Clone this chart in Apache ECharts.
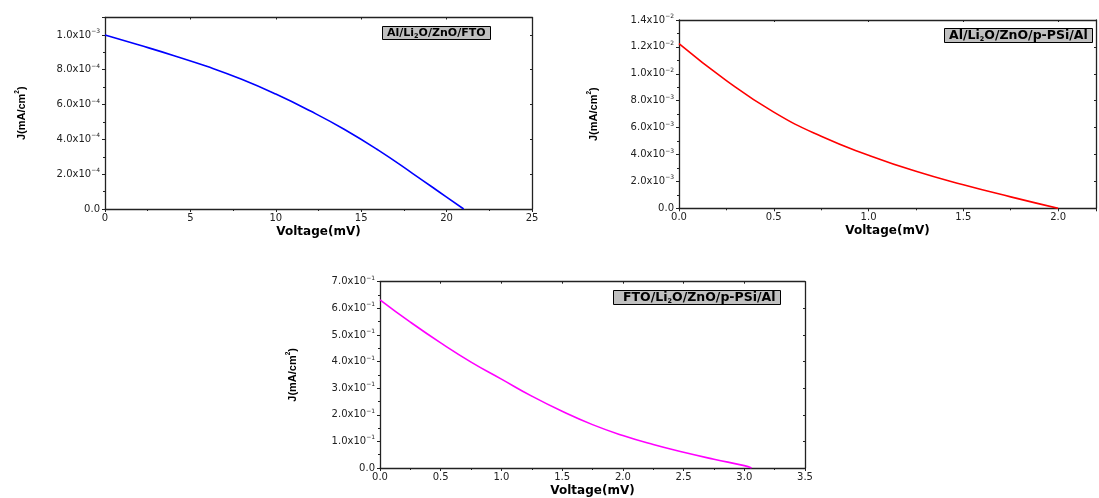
<!DOCTYPE html>
<html>
<head>
<meta charset="utf-8">
<script src="https://cdn.jsdelivr.net/npm/echarts@6/dist/echarts.min.js"></script>
<style>
html,body{margin:0;padding:0;background:#fff;}
#chart{width:1099px;height:498px;}
</style>
</head>
<body>
<div id="chart"></div>
<script>
// ---- Data ----
var v1 = [0, 2, 4, 6, 8, 10, 12, 14, 16, 18, 20, 21];
var j1 = [1.000e-3, 0.942e-3, 0.882e-3, 0.818e-3, 0.745e-3, 0.660e-3, 0.564e-3, 0.458e-3, 0.338e-3, 0.205e-3, 0.068e-3, 0];

var v2 = [0, 0.25, 0.5, 0.75, 1.0, 1.25, 1.5, 1.75, 2.0];
var j2 = [12.25e-3, 9.5e-3, 7.15e-3, 5.35e-3, 3.95e-3, 2.75e-3, 1.75e-3, 0.85e-3, 0];

var v3 = [0, 0.25, 0.5, 0.75, 1.0, 1.25, 1.5, 1.75, 2.0, 2.25, 2.5, 2.75, 3.0, 3.06];
var j3 = [0.632, 0.548, 0.470, 0.398, 0.334, 0.270, 0.213, 0.163, 0.122, 0.088, 0.059, 0.033, 0.009, 0];

// tick labels: [mantissa, exponent]
var yTicks1 = [['0.0', ''], ['2.0x10', '-4'], ['4.0x10', '-4'], ['6.0x10', '-4'], ['8.0x10', '-4'], ['1.0x10', '-3']];
var yTicks2 = [['0.0', ''], ['2.0x10', '-3'], ['4.0x10', '-3'], ['6.0x10', '-3'], ['8.0x10', '-3'], ['1.0x10', '-2'], ['1.2x10', '-2'], ['1.4x10', '-2']];
var yTicks3 = [['0.0', ''], ['1.0x10', '-1'], ['2.0x10', '-1'], ['3.0x10', '-1'], ['4.0x10', '-1'], ['5.0x10', '-1'], ['6.0x10', '-1'], ['7.0x10', '-1']];
var xTicks1 = ['0', '5', '10', '15', '20', '25'];
var xTicks2 = ['0.0', '0.5', '1.0', '1.5', '2.0'];
var xTicks3 = ['0.0', '0.5', '1.0', '1.5', '2.0', '2.5', '3.0', '3.5'];

var legends = [
  ['Al/Li', '2', 'O/ZnO/FTO'],
  ['Al/Li', '2', 'O/ZnO/p-PSi/Al'],
  ['FTO/Li', '2', 'O/ZnO/p-PSi/Al']
];
var colors = ['#0000ff', '#ff0000', '#ff00ff'];

// ---- Styles ----
var FONT = '"DejaVu Sans", "Liberation Sans", Arial, sans-serif';
var NARROW = '"Liberation Sans Narrow", "Arial Narrow", "Liberation Sans", sans-serif';
var AX = '#222';

function pairs(x, y) { return x.map(function (v, i) { return [v, y[i]]; }); }

function yFmt(ticks) {
  return function (val, idx) {
    var t = ticks[idx];
    if (!t) return '';
    if (!t[1]) return '{m|' + t[0] + '}';
    return '{m|' + t[0] + '}{s|' + t[1].replace('-', '\u2212') + '}';
  };
}
function xFmt(ticks) {
  return function (val, idx) { return ticks[idx] !== undefined ? ticks[idx] : ''; };
}

var grids = [
  {left: 105, top: 17.5, width: 427, height: 191.5},
  {left: 679, top: 20, width: 421.5, height: 188.3},
  {left: 380, top: 281.7, width: 425, height: 187.3}
];
var xCfg = [
  {max: 25, interval: 5, ticks: xTicks1},
  {max: 2.2, interval: 0.5, ticks: xTicks2},
  {max: 3.5, interval: 0.5, ticks: xTicks3}
];
var yCfg = [
  {max: 1.1e-3, interval: 2e-4, ticks: yTicks1, gap: 76},
  {max: 1.4e-2, interval: 2e-3, ticks: yTicks2, gap: 78},
  {max: 0.7, interval: 0.1, ticks: yTicks3, gap: 80}
];
var titlePos = [
  {left: 382, top: 25, pad: [1, 5, 0, 5], fs: 11},
  {left: 944, top: 28, pad: [1, 5, 0, 5], fs: 12.5},
  {left: 613, top: 290, pad: [1, 5, 0, 10], fs: 12.5}
];

var xAxes = [], yAxes = [], series = [], titles = [];
var datas = [pairs(v1, j1), pairs(v2, j2), pairs(v3, j3)];

for (var i = 0; i < 3; i++) {
  var axLine = {show: true, onZero: false, lineStyle: {color: AX, width: 1.3}};
  xAxes.push({
    type: 'value', gridIndex: i, position: 'bottom', min: 0, max: xCfg[i].max, interval: xCfg[i].interval,
    splitLine: {show: false}, axisLine: axLine,
    axisTick: {show: true, length: 3, lineStyle: {color: AX, width: 1}},
    minorTick: {show: true, splitNumber: 2, length: 2, lineStyle: {color: AX, width: 1}},
    axisLabel: {formatter: xFmt(xCfg[i].ticks), fontFamily: FONT, fontSize: 10, color: '#222', margin: 4, showMaxLabel: true},
    name: 'Voltage(mV)', nameLocation: 'middle', nameGap: 17,
    nameTextStyle: {fontFamily: FONT, fontWeight: 'bold', fontSize: 12, color: '#000'}
  });
  xAxes.push({
    type: 'value', gridIndex: i, position: 'top', min: 0, max: xCfg[i].max, interval: xCfg[i].interval,
    splitLine: {show: false}, axisLine: axLine,
    axisTick: {show: true, inside: true, length: 2, lineStyle: {color: AX, width: 1}},
    axisLabel: {show: false}
  });
  yAxes.push({
    type: 'value', gridIndex: i, position: 'left', min: 0, max: yCfg[i].max, interval: yCfg[i].interval,
    splitLine: {show: false}, axisLine: axLine,
    axisTick: {show: true, length: 3, lineStyle: {color: AX, width: 1}},
    minorTick: {show: true, splitNumber: 2, length: 2, lineStyle: {color: AX, width: 1}},
    axisLabel: {
      formatter: yFmt(yCfg[i].ticks), margin: 5, showMaxLabel: true,
      rich: {
        m: {fontFamily: FONT, fontSize: 10, color: '#222'},
        s: {fontFamily: FONT, fontSize: 6, color: '#222', padding: [0, 0, 7, 0]}
      }
    },
    name: 'J(mA/cm{p|2})', nameLocation: 'middle', nameGap: yCfg[i].gap, nameRotate: 90,
    nameTextStyle: {
      fontFamily: NARROW, fontWeight: 'bold', fontSize: 11, color: '#000',
      rich: {p: {fontFamily: NARROW, fontWeight: 'bold', fontSize: 6.5, color: '#000', padding: [0, 0, 8, 0]}}
    }
  });
  yAxes.push({
    type: 'value', gridIndex: i, position: 'right', min: 0, max: yCfg[i].max, interval: yCfg[i].interval,
    splitLine: {show: false}, axisLine: axLine,
    axisTick: {show: true, inside: true, length: 2, lineStyle: {color: AX, width: 1}},
    axisLabel: {show: false}
  });
  series.push({
    type: 'line', xAxisIndex: i * 2, yAxisIndex: i * 2, data: datas[i],
    smooth: true, symbol: 'none', lineStyle: {color: colors[i], width: 1.6}, z: 3
  });
  var lg = legends[i];
  var fs = titlePos[i].fs;
  titles.push({
    left: titlePos[i].left, top: titlePos[i].top,
    text: '{b|' + lg[0] + '}{sub|' + lg[1] + '}{b|' + lg[2] + '}',
    backgroundColor: '#c0c0c0', borderColor: '#000', borderWidth: 1, padding: titlePos[i].pad,
    textStyle: {
      rich: {
        b: {fontFamily: FONT, fontWeight: 'bold', fontSize: fs, color: '#000', lineHeight: 12},
        sub: {fontFamily: FONT, fontWeight: 'bold', fontSize: 6.5, color: '#000', padding: [7, 0, 0, 0]}
      }
    }
  });
}

var chart = echarts.init(document.getElementById('chart'), null, {renderer: 'canvas'});
chart.setOption({
  animation: false,
  backgroundColor: '#fff',
  title: titles,
  grid: grids,
  xAxis: xAxes,
  yAxis: yAxes,
  series: series
});
</script>
</body>
</html>
